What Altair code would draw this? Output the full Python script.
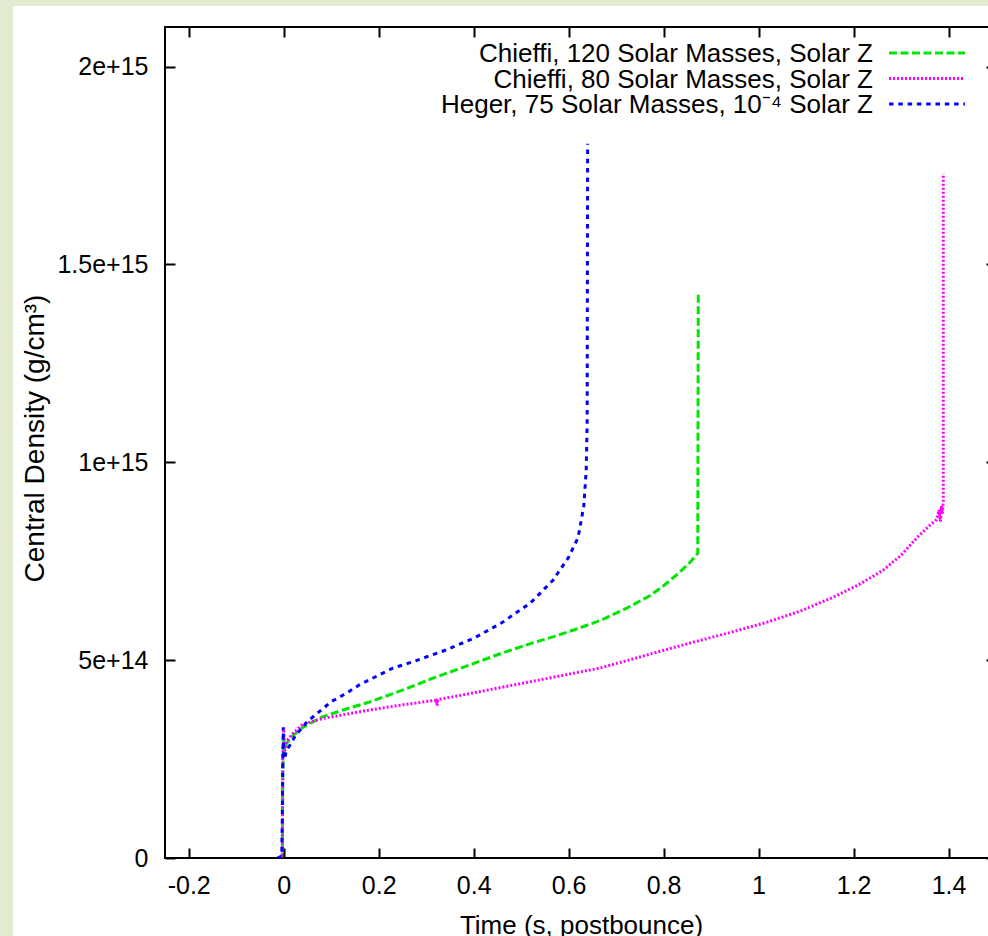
import altair as alt
import pandas as pd

FONT = "Liberation Sans"

# ---- data (density in units of 1e14 g/cm^3) ----
series = [
    "Chieffi, 120 Solar Masses, Solar Z",
    "Chieffi, 80 Solar Masses, Solar Z",
    "Heger, 75 Solar Masses, 10⁻⁴ Solar Z",
]
colors = ["#00e600", "#ff00ff", "#0000ff"]
dashes = [[8, 3.5], [2, 2], [4.5, 4.8]]

green_t = [-0.012, -0.003, -0.002, 0.0, 0.002, 0.006, 0.02, 0.04, 0.08, 0.13, 0.18,
           0.25, 0.32, 0.39, 0.46, 0.52, 0.57, 0.62, 0.67, 0.72, 0.77, 0.80, 0.83,
           0.855, 0.872, 0.873]
green_rho = [0.0, 0.05, 2.0, 3.0, 2.7, 2.9, 3.1, 3.3, 3.56, 3.76, 3.94,
             4.24, 4.57, 4.87, 5.18, 5.42, 5.6, 5.8, 6.02, 6.3, 6.62, 6.88, 7.18,
             7.46, 7.7, 14.3]

magenta_t = [-0.011, -0.003, -0.002, 0.0, 0.002, 0.006, 0.02, 0.04, 0.08, 0.13, 0.181,
             0.25, 0.322, 0.323, 0.324, 0.39, 0.462, 0.56, 0.666, 0.75, 0.8, 0.877,
             0.95, 1.018, 1.09, 1.157, 1.21, 1.262, 1.3, 1.334, 1.36, 1.375, 1.38,
             1.383, 1.385, 1.387, 1.389, 1.389]
magenta_rho = [0.0, 0.05, 2.5, 3.3, 2.7, 2.95, 3.15, 3.38, 3.52, 3.63, 3.74,
               3.87, 3.99, 3.85, 4.0, 4.15, 4.32, 4.55, 4.8, 5.08, 5.25, 5.5,
               5.73, 5.96, 6.25, 6.59, 6.9, 7.27, 7.65, 8.1, 8.4, 8.55, 8.8,
               8.5, 8.9, 8.7, 9.0, 17.3]

blue_t = [-0.013, -0.004, -0.003, -0.002, -0.001, 0.0, 0.002, 0.005, 0.013, 0.025,
          0.05, 0.075, 0.1, 0.13, 0.16, 0.2, 0.23, 0.27, 0.34, 0.4, 0.46, 0.52,
          0.567, 0.6, 0.62, 0.632, 0.637, 0.639, 0.64]
blue_rho = [0.0, 0.05, 1.0, 2.4, 3.3, 2.6, 2.5, 2.7, 2.85, 3.1,
            3.45, 3.7, 3.95, 4.15, 4.38, 4.62, 4.8, 4.95, 5.25, 5.55, 5.95, 6.45,
            7.02, 7.6, 8.1, 8.9, 9.8, 11.0, 18.05]

xtick_vals = [-0.2, 0, 0.2, 0.4, 0.6, 0.8, 1.0, 1.2, 1.4]
xtick_labels = ["-0.2", "0", "0.2", "0.4", "0.6", "0.8", "1", "1.2", "1.4"]
ytick_vals = [0, 5e14, 1e15, 1.5e15, 2e15]
ytick_labels = ["0", "5e+14", "1e+15", "1.5e+15", "2e+15"]

rows = []
for name, ts, rs in zip(series, [green_t, magenta_t, blue_t], [green_rho, magenta_rho, blue_rho]):
    for i, (t, r) in enumerate(zip(ts, rs)):
        rows.append({"series": name, "t": t, "rho": r * 1e14, "idx": i})
df = pd.DataFrame(rows)


def label_expr(vals, labels, tol):
    expr = "''"
    for v, l in reversed(list(zip(vals, labels))):
        expr = f"abs(datum.value - ({v})) < {tol} ? '{l}' : {expr}"
    return expr


W, H = 831, 831
xscale = alt.Scale(domain=[-0.25, 1.5], nice=False, zero=False)
yscale = alt.Scale(domain=[0, 2.1e15], nice=False, zero=False)

common_axis = dict(tickSize=10, tickWidth=2, tickColor="black", domain=False, grid=False,
                   labelFont=FONT, labelColor="black", titleFont=FONT, titleColor="black",
                   titleFontWeight="normal", zindex=1)

x_bottom = alt.Axis(orient="bottom", values=xtick_vals, offset=-10, labelFontSize=25,
                    labelBaseline="alphabetic", labelPadding=35, labelFlush=False,
                    labelOverlap=False,
                    labelExpr=label_expr(xtick_vals, xtick_labels, 1e-6),
                    title="Time (s, postbounce)", titleFontSize=26, titleX=416, titleY=85,
                    titleAlign="center", titleBaseline="alphabetic", **common_axis)
y_left = alt.Axis(orient="left", values=ytick_vals, offset=-10, labelFontSize=25,
                  labelPadding=17, labelBaseline="middle", labelFlush=False,
                  labelOverlap=False,
                  labelExpr=label_expr(ytick_vals, ytick_labels, 1e9),
                  title="Central Density (g/cm³)", titleFontSize=28, titleAngle=270,
                  titleX=-132, titleY=411, titleAlign="center",
                  titleBaseline="alphabetic", **common_axis)
x_top = alt.Axis(orient="top", values=xtick_vals, offset=-10, labels=False, title="",
                 **common_axis)
y_right = alt.Axis(orient="right", values=ytick_vals, offset=-10, labels=False, title="",
                   **common_axis)

one = alt.Data(values=[{}])
GREEN_BG = "#e2ebd0"

# page border strips (left and top)
strip_left = alt.Chart(one).mark_rect(color=GREEN_BG).encode(
    x=alt.value(-166), x2=alt.value(-152), y=alt.value(-28), y2=alt.value(H + 80)
)
strip_top = alt.Chart(one).mark_rect(color=GREEN_BG).encode(
    x=alt.value(-166), x2=alt.value(W + 20), y=alt.value(-28), y2=alt.value(-21)
)

lines = alt.Chart(df).mark_line(strokeWidth=3, clip=True).encode(
    x=alt.X("t:Q", scale=xscale, axis=x_bottom),
    y=alt.Y("rho:Q", scale=yscale, axis=y_left),
    color=alt.Color("series:N", scale=alt.Scale(domain=series, range=colors), legend=None),
    strokeDash=alt.StrokeDash("series:N", scale=alt.Scale(domain=series, range=dashes),
                              legend=None),
    order="idx:Q",
)

mirror = alt.Chart(df).mark_point(opacity=0).encode(
    x=alt.X("t:Q", scale=xscale, axis=x_top),
    y=alt.Y("rho:Q", scale=yscale, axis=y_right),
)

legend_layers = []
for i, (name, col, dash) in enumerate(zip(series, colors, dashes)):
    ty = 35 + 25.5 * i
    ly = 26 + 25.5 * i
    legend_layers.append(
        alt.Chart(one).mark_text(align="right", baseline="alphabetic", fontSize=26,
                                 font=FONT, color="black").encode(
            x=alt.value(708), y=alt.value(ty), text=alt.value(name))
    )
    legend_layers.append(
        alt.Chart(one).mark_rule(strokeWidth=3, color=col, strokeDash=dash).encode(
            x=alt.value(724), x2=alt.value(800), y=alt.value(ly))
    )

chart = alt.layer(strip_left, strip_top, lines, mirror, *legend_layers).resolve_axis(
    x="independent", y="independent"
).properties(
    width=W, height=H,
    autosize=alt.AutoSizeParams(type="none"),
    padding={"left": 165, "top": 27, "right": -8, "bottom": 78},
    background="white",
).configure_view(stroke="black", strokeWidth=2)

chart.save("out.html", embed_options={"renderer": "svg", "actions": False})
